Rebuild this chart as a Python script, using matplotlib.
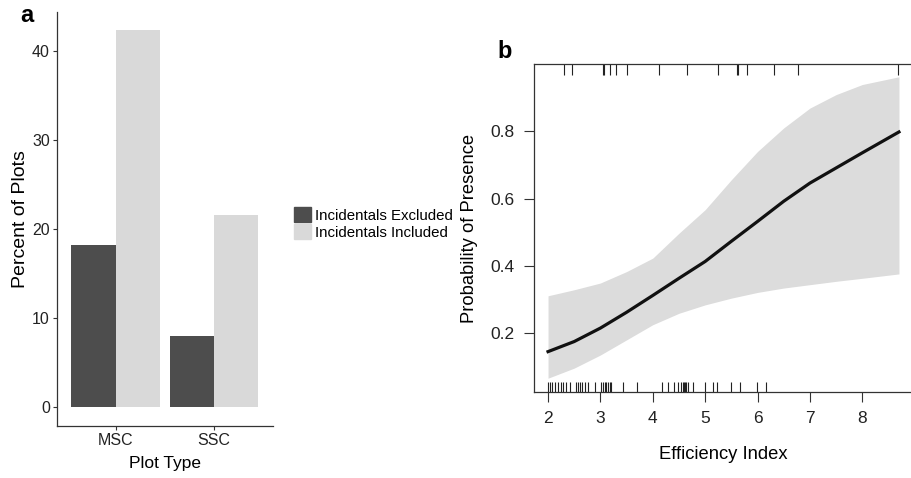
import matplotlib
matplotlib.use("Agg")
import matplotlib.pyplot as plt
import numpy as np
from matplotlib.patches import Patch

plt.rcParams["font.family"] = ["Liberation Sans", "DejaVu Sans"]

# panel a data
plot_types = ["MSC", "SSC"]
pct_excluded = [18.2, 8.0]
pct_included = [42.4, 21.6]
series_labels = ["Incidentals Excluded", "Incidentals Included"]

# panel b data
eff_x = [2.0, 2.5, 3.0, 3.5, 4.0, 4.5, 5.0, 5.5, 6.0, 6.5, 7.0, 7.5, 8.0, 8.7]
prob_fit = [0.145, 0.175, 0.215, 0.262, 0.312, 0.363, 0.413, 0.473, 0.532, 0.592, 0.646, 0.691, 0.736, 0.798]
prob_upper = [0.311, 0.329, 0.349, 0.383, 0.423, 0.497, 0.567, 0.656, 0.740, 0.810, 0.869, 0.909, 0.939, 0.962]
prob_lower = [0.066, 0.096, 0.135, 0.180, 0.225, 0.259, 0.284, 0.304, 0.321, 0.334, 0.344, 0.354, 0.363, 0.376]
rug_absent = [2.00, 2.03, 2.08, 2.14, 2.19, 2.24, 2.29, 2.34, 2.41, 2.54, 2.57, 2.61, 2.64,
              2.70, 2.76, 2.89, 3.02, 3.05, 3.08, 3.11, 3.15, 3.18, 3.21, 3.43, 3.69, 4.18,
              4.29, 4.41, 4.48, 4.53, 4.57, 4.59, 4.61, 4.63, 4.68, 4.76, 5.00, 5.14, 5.23,
              5.49, 5.67, 5.99, 6.16]
rug_present = [2.30, 2.46, 3.04, 3.06, 3.18, 3.30, 3.50, 4.11, 4.66, 5.25, 5.60, 5.63,
               5.80, 6.32, 6.77, 8.69]

W, H = 911, 478
fig = plt.figure(figsize=(W / 100, H / 100), dpi=100)
fs = 11.5
dark, light = "#4d4d4d", "#d9d9d9"


def px_axes(l, t, r, b):
    return fig.add_axes([l / W, 1 - b / H, (r - l) / W, (b - t) / H])


# ---- panel a ----
ax = px_axes(56.7, 11.7, 273, 426)
pos = np.arange(1, len(plot_types) + 1)
ax.bar(pos - 0.225, pct_excluded, width=0.45, color=dark)
ax.bar(pos + 0.225, pct_included, width=0.45, color=light)
ax.set_xlim(0.4, 2.6)
ax.set_ylim(-2.1, 44.4)
ax.set_xticks(pos)
ax.set_xticklabels(plot_types)
ax.set_yticks([0, 10, 20, 30, 40])
for s in ["top", "right"]:
    ax.spines[s].set_visible(False)
for s in ["left", "bottom"]:
    ax.spines[s].set_color("#333333")
    ax.spines[s].set_linewidth(0.9)
ax.tick_params(labelsize=fs, length=3, width=0.8, color="#333333", labelcolor="#222222", pad=2)
ax.set_xlabel("Plot Type", fontsize=12.5, labelpad=6)
ax.set_ylabel("Percent of Plots", fontsize=14, labelpad=2)
fig.text(20 / W, 1 - 16 / H, "a", fontsize=17, fontweight="bold", va="center")

handles = [Patch(color=dark), Patch(color=light)]
fig.legend(handles, series_labels, loc="upper left", bbox_to_anchor=(294 / W, 1 - 207 / H),
           frameon=False, fontsize=10.8, handlelength=1.15, handleheight=1.15,
           handletextpad=0.25, labelspacing=0.1, borderpad=0, borderaxespad=0)

# ---- panel b ----
bx = px_axes(534, 64, 913, 392)
bx.fill_between(eff_x, prob_lower, prob_upper, color="#dcdcdc", linewidth=0)
bx.plot(eff_x, prob_fit, color="#111111", linewidth=2.3)
bx.vlines(rug_absent, 0.025, 0.025 + 10 / 336, color="#222222", linewidth=0.8)
bx.vlines(rug_present, 1.0 - 11 / 336, 1.0, color="#222222", linewidth=0.8)
bx.set_xlim(1.732, 8.968)
bx.set_ylim(0.025, 1.0)
bx.set_xticks(range(2, 9))
bx.set_yticks([0.2, 0.4, 0.6, 0.8])
for s in bx.spines.values():
    s.set_color("#333333")
    s.set_linewidth(0.9)
bx.tick_params(labelsize=fs + 1, length=7, width=0.8, color="#333333", labelcolor="#222222", pad=7)
bx.set_xlabel("Efficiency Index", fontsize=13.2, labelpad=14)
bx.set_ylabel("Probability of Presence", fontsize=13.2, labelpad=9)
fig.text(497 / W, 1 - 52 / H, "b", fontsize=17, fontweight="bold", va="center")

fig.savefig("out.png", dpi=100)
